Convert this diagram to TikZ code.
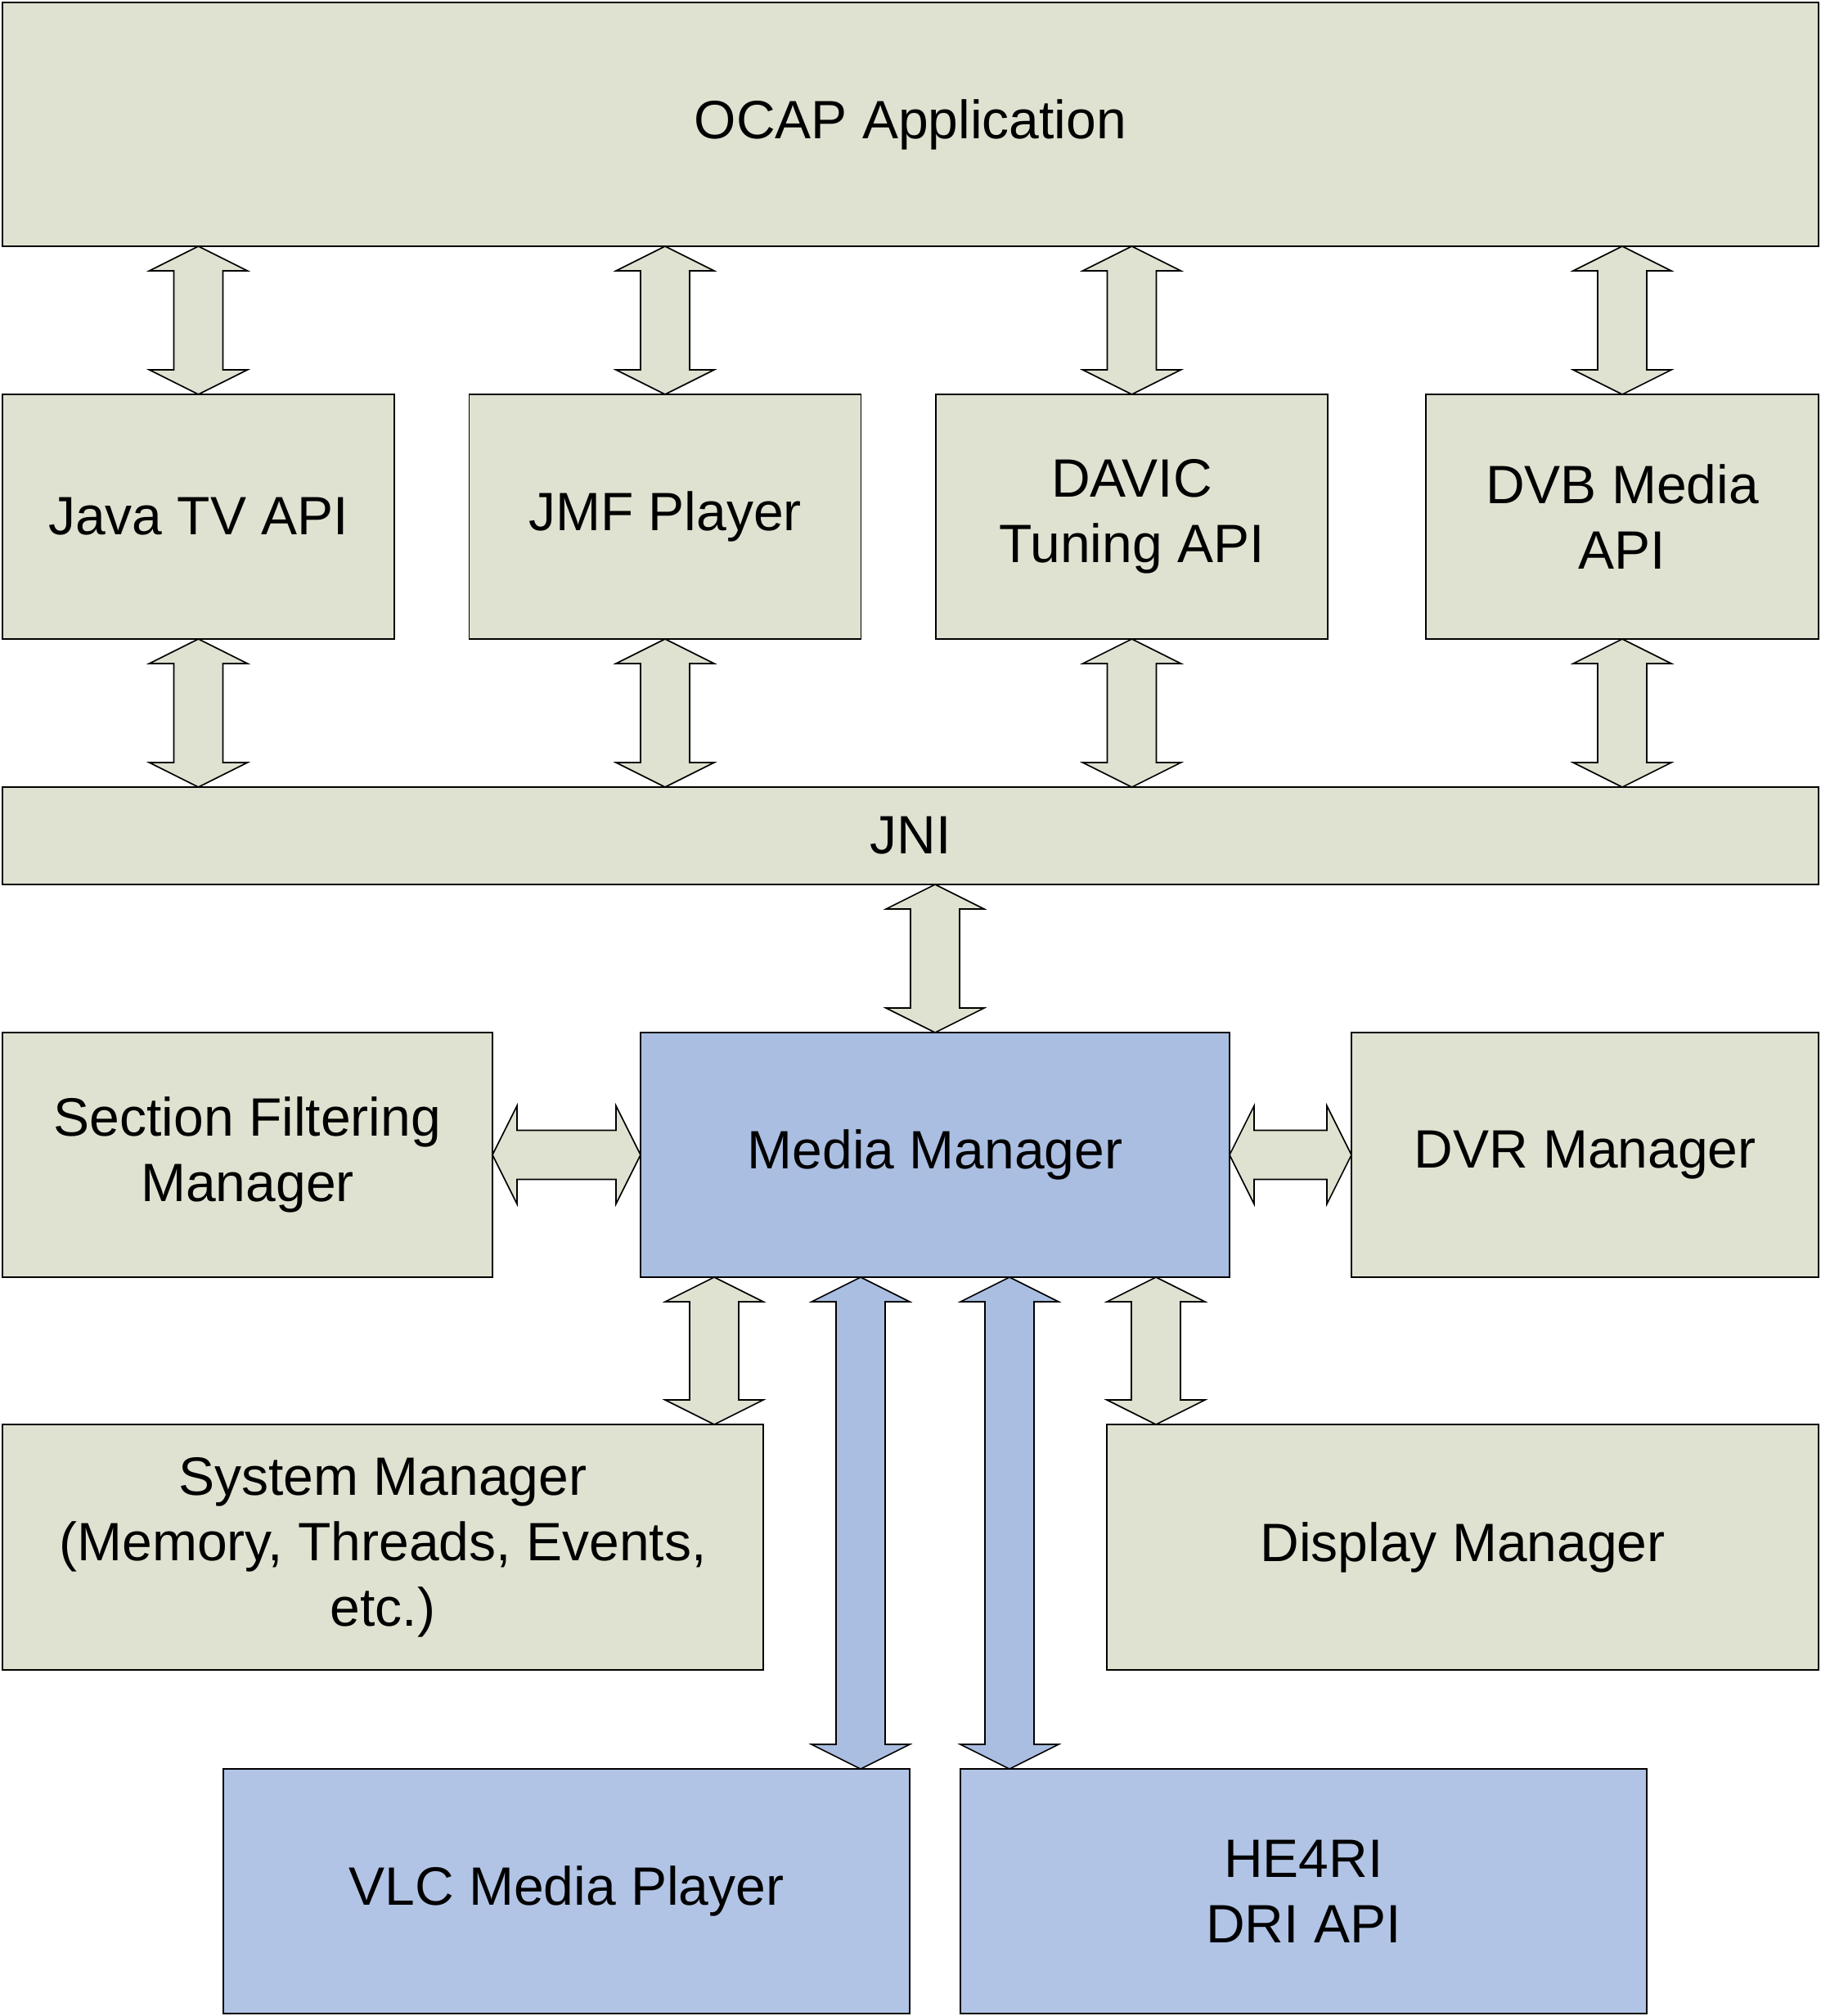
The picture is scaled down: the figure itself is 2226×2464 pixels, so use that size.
\documentclass[tikz,border=0pt]{standalone}
\usepackage{fontspec}
\setmainfont{Liberation Sans}
\usetikzlibrary{calc}
\definecolor{boxgreen}{RGB}{223,226,208}
\definecolor{mmblue}{RGB}{170,190,225}
\definecolor{lowblue}{RGB}{177,196,229}
\tikzset{
  sz/.style 2 args={minimum width=#1*0.25pt, minimum height=#2*0.25pt},
  blk/.style={draw=black, line width=0.45pt, inner sep=0pt, outer sep=0pt, align=center,
     font=\fontsize{16.5pt}{20pt}\selectfont},
  gbox/.style={blk, fill=boxgreen},
  bbox/.style={blk, fill=mmblue},
  lbox/.style={blk, fill=lowblue},
  arrowline/.style={draw=black, line width=0.4pt, line join=miter},
}
\newcommand\VArrow[3]{%
  \path[arrowline,fill=#3] let \p1=#1, \p2=#2 in
    (\x1,\y1) -- (\x1+15pt,\y1-7.5pt) -- (\x1+7.5pt,\y1-7.5pt) -- (\x1+7.5pt,\y2+7.5pt)
    -- (\x1+15pt,\y2+7.5pt) -- (\x1,\y2) -- (\x1-15pt,\y2+7.5pt) -- (\x1-7.5pt,\y2+7.5pt)
    -- (\x1-7.5pt,\y1-7.5pt) -- (\x1-15pt,\y1-7.5pt) -- cycle;}
\newcommand\HArrow[3]{%
  \path[arrowline,fill=#3] let \p1=#1, \p2=#2 in
    (\x1,\y1) -- (\x1+7.5pt,\y1+15pt) -- (\x1+7.5pt,\y1+7.5pt) -- (\x2-7.5pt,\y1+7.5pt)
    -- (\x2-7.5pt,\y1+15pt) -- (\x2,\y1) -- (\x2-7.5pt,\y1-15pt) -- (\x2-7.5pt,\y1-7.5pt)
    -- (\x1+7.5pt,\y1-7.5pt) -- (\x1+7.5pt,\y1-15pt) -- cycle;}
\begin{document}
\begin{tikzpicture}[x=0.25pt,y=-0.25pt]
\useasboundingbox (0,0) rectangle (2226,2464);
% boxes
\node[gbox, sz={2220}{298}] (ocap) at (1113,152) {OCAP Application};
\node[gbox, sz={479}{299}] (java) at (242.5,631.5) {Java TV API};
\node[gbox, sz={479}{299}] (jmf) at (813,631.5) {JMF Player};
\node[gbox, sz={479}{299}] (davic) at (1383.5,631.5) {DAVIC\\Tuning API};
\node[gbox, sz={480}{299}] (dvb) at (1983,631.5) {DVB Media\\API};
\node[gbox, sz={2220}{119}] (jni) at (1113,1021.5) {JNI};
\node[bbox, sz={720}{299}] (mm) at (1143,1411.5) {Media Manager};
\node[gbox, sz={599}{299}] (sfm) at (302.5,1411.5) {Section Filtering\\Manager};
\node[gbox, sz={571}{299}] (dvr) at (1937.5,1411.5) {DVR Manager};
\node[gbox, sz={930}{300}] (sys) at (468,1891) {System Manager\\(Memory, Threads, Events,\\etc.)};
\node[gbox, sz={870}{300}] (disp) at (1788,1891) {Display Manager};
\node[lbox, sz={839}{299}] (vlc) at (692.5,2311.5) {VLC Media Player};
\node[lbox, sz={839}{299}] (he) at (1593.5,2311.5) {HE4RI\\DRI API};
% OCAP <-> APIs
\VArrow{(ocap.south -| java.north)}{(java.north)}{boxgreen}
\VArrow{(ocap.south -| jmf.north)}{(jmf.north)}{boxgreen}
\VArrow{(ocap.south -| davic.north)}{(davic.north)}{boxgreen}
\VArrow{(ocap.south -| dvb.north)}{(dvb.north)}{boxgreen}
% APIs <-> JNI
\VArrow{(java.south)}{(jni.north -| java.south)}{boxgreen}
\VArrow{(jmf.south)}{(jni.north -| jmf.south)}{boxgreen}
\VArrow{(davic.south)}{(jni.north -| davic.south)}{boxgreen}
\VArrow{(dvb.south)}{(jni.north -| dvb.south)}{boxgreen}
% JNI <-> Media Manager
\VArrow{(jni.south -| mm.north)}{(mm.north)}{boxgreen}
% side managers
\HArrow{(sfm.east)}{(mm.west)}{boxgreen}
\HArrow{(mm.east)}{(dvr.west)}{boxgreen}
% lower
\VArrow{($(mm.south -| sys.north east)+(-60,0)$)}{($(sys.north east)+(-60,0)$)}{boxgreen}
\VArrow{($(mm.south -| disp.north west)+(60,0)$)}{($(disp.north west)+(60,0)$)}{boxgreen}
\VArrow{($(mm.south -| vlc.north east)+(-60,0)$)}{($(vlc.north east)+(-60,0)$)}{mmblue}
\VArrow{($(mm.south -| he.north west)+(60,0)$)}{($(he.north west)+(60,0)$)}{mmblue}
\end{tikzpicture}
\end{document}
